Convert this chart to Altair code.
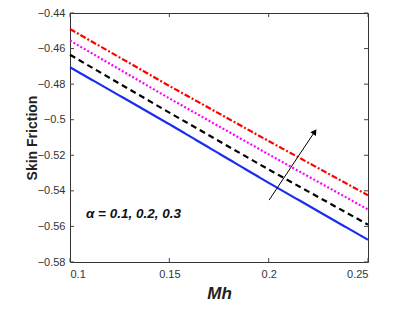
import altair as alt
import pandas as pd
import math

mh = [0.10, 0.15, 0.20, 0.25]
series_names = ["blue", "black", "magenta", "red"]
sf_blue = [-0.4705, -0.5025, -0.5355, -0.5675]
sf_black = [-0.4635, -0.4960, -0.5280, -0.5590]
sf_magenta = [-0.4555, -0.4880, -0.5195, -0.5505]
sf_red = [-0.4490, -0.4810, -0.5120, -0.5425]
x_ticks = [0.1, 0.15, 0.2, 0.25]
y_ticks = [-0.58, -0.56, -0.54, -0.52, -0.5, -0.48, -0.46, -0.44]
arrow_x = [0.2002, 0.2232]
arrow_y = [-0.5452, -0.5067]
label_text = "\u03b1 = 0.1, 0.2, 0.3"
label_pos = [0.108, -0.5528]

colors = {"blue": "#1a2cf0", "black": "#000000", "magenta": "#ff00ff", "red": "#ff0000"}
dashes = {"blue": [1, 0], "black": [6, 4], "magenta": [2, 2], "red": [6, 2, 2, 2]}

rows = []
for name, vals in zip(series_names, [sf_blue, sf_black, sf_magenta, sf_red]):
    for x, y in zip(mh, vals):
        rows.append({"Mh": x, "SF": y, "s": name})
df = pd.DataFrame(rows)

W, H = 298, 249
xs = alt.Scale(domain=[0.1, 0.25], nice=False)
ys = alt.Scale(domain=[-0.58, -0.44], nice=False)
FONT = "Liberation Sans"

x_axis = alt.Axis(values=x_ticks, format="~g", title="Mh", labelFont=FONT, labelFontSize=11,
                  labelColor="#333333", tickSize=0, labelPadding=6, domain=False, grid=False,
                  titleFont=FONT, titleFontSize=17, titleFontStyle="italic", titleFontWeight="bold",
                  titleColor="#222222", titleY=31, titleBaseline="middle")
y_axis = alt.Axis(values=y_ticks, format="~g", title="Skin Friction", labelFont=FONT, labelFontSize=11,
                  labelColor="#333333", tickSize=0, labelPadding=5, domain=False, grid=False,
                  titleFont=FONT, titleFontSize=14, titleFontWeight="bold", titleColor="#222222",
                  titleX=-38, titleBaseline="middle")

def X(f):
    return alt.X(f, scale=xs, axis=x_axis)

def Y(f):
    return alt.Y(f, scale=ys, axis=y_axis)

lines = []
for name in series_names:
    lines.append(
        alt.Chart(df[df.s == name]).mark_line(color=colors[name], strokeWidth=2.2, strokeDash=dashes[name])
        .encode(x=X("Mh:Q"), y=Y("SF:Q"))
    )

tick_df_y = pd.DataFrame({"v": y_ticks})
tick_df_x = pd.DataFrame({"v": x_ticks})
tc = "#444444"
yt_left = alt.Chart(tick_df_y).mark_rule(color=tc, strokeWidth=1).encode(
    y=Y("v:Q"), x=alt.value(0), x2=alt.value(4))
yt_right = alt.Chart(tick_df_y).mark_rule(color=tc, strokeWidth=1).encode(
    y=Y("v:Q"), x=alt.value(W - 4), x2=alt.value(W))
xt_bot = alt.Chart(tick_df_x).mark_rule(color=tc, strokeWidth=1).encode(
    x=X("v:Q"), y=alt.value(H - 4), y2=alt.value(H))
xt_top = alt.Chart(tick_df_x).mark_rule(color=tc, strokeWidth=1).encode(
    x=X("v:Q"), y=alt.value(0), y2=alt.value(4))

arrow_df = pd.DataFrame({"x": [arrow_x[0]], "y": [arrow_y[0]], "x2": [arrow_x[1]], "y2": [arrow_y[1]]})
arrow_line = alt.Chart(arrow_df).mark_rule(color="black", strokeWidth=1).encode(
    x=X("x:Q"), y=Y("y:Q"), x2="x2:Q", y2="y2:Q")
head_df = pd.DataFrame({"x": [arrow_x[1]], "y": [arrow_y[1]]})
dxp = (arrow_x[1] - arrow_x[0]) / 0.15 * W
dyp = (arrow_y[1] - arrow_y[0]) / 0.14 * H
ang = math.degrees(math.atan2(dxp, dyp)) % 360
arrow_head = alt.Chart(head_df).mark_point(shape="triangle-up", filled=True, color="black", size=45,
                                           angle=ang, opacity=1).encode(x=X("x:Q"), y=Y("y:Q"))

lab_df = pd.DataFrame({"x": [label_pos[0]], "y": [label_pos[1]], "t": [label_text]})
label = alt.Chart(lab_df).mark_text(align="left", baseline="middle", font=FONT, fontSize=13.5,
                                    fontWeight="bold", fontStyle="italic", color="#111111").encode(
    x=X("x:Q"), y=Y("y:Q"), text="t:N")

chart = alt.layer(*lines, yt_left, yt_right, xt_bot, xt_top, arrow_line, arrow_head, label).properties(
    width=W, height=H, autosize=alt.AutoSizeParams(type="none"),
    padding={"left": 62, "top": 5, "right": 28, "bottom": 57},
    background="white",
).configure_view(stroke="#333333", strokeWidth=1)

chart.save("out.html", embed_options={"renderer": "svg", "actions": False})
